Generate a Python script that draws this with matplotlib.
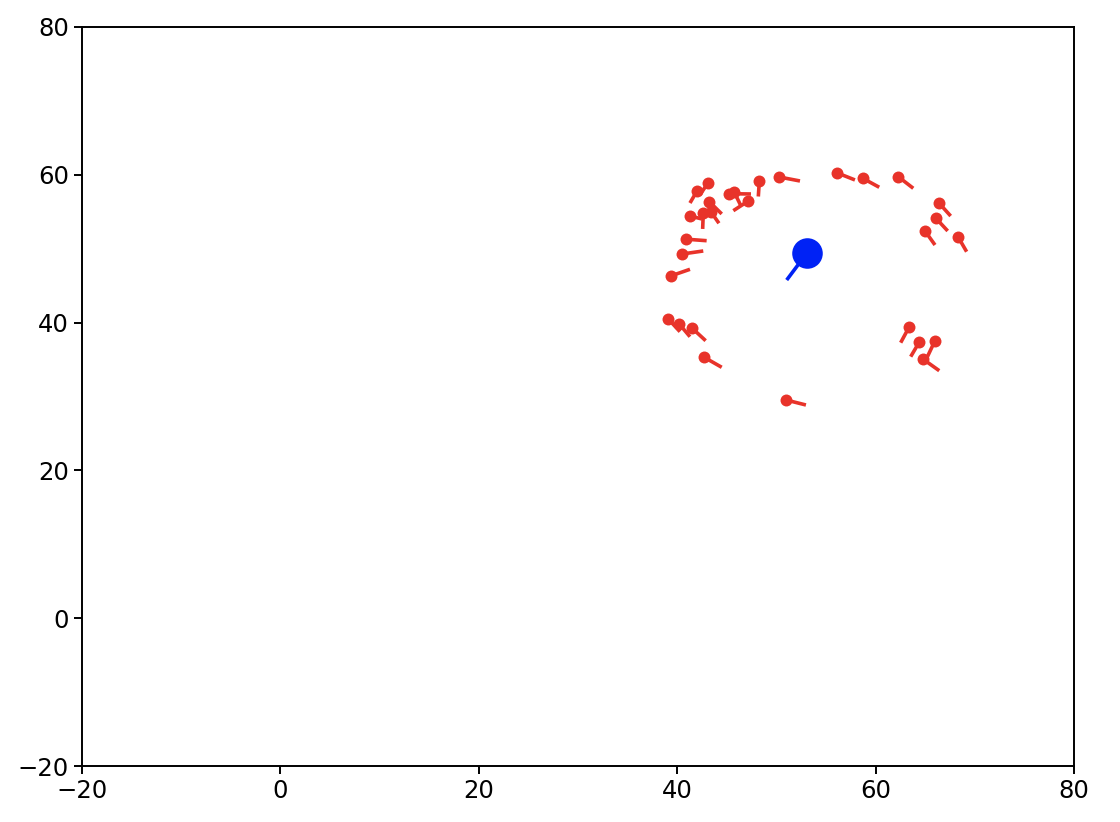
import matplotlib
matplotlib.use("Agg")
import matplotlib.pyplot as plt
import numpy as np

# Red agents: position and heading vector (data units)
red_x = [39.35, 40.51, 40.84, 41.29, 42.00, 43.10, 43.24, 42.63, 43.41, 45.25,
         45.76, 47.17, 48.28, 50.28, 56.08, 58.70, 62.29, 66.42, 66.09, 64.98,
         68.34, 39.10, 40.21, 41.52, 42.73, 50.97, 63.40, 64.41, 65.99, 64.81]
red_y = [46.31, 49.28, 51.29, 54.42, 57.81, 58.89, 56.36, 54.83, 54.97, 57.44,
         57.63, 56.45, 59.12, 59.70, 60.28, 59.53, 59.74, 56.14, 54.11, 52.40,
         51.54, 40.49, 39.81, 39.23, 35.30, 29.53, 39.44, 37.37, 37.55, 35.03]
red_u = [1.94, 2.12, 2.13, 1.21, -0.71, -0.80, 1.25, -0.06, 0.80, 2.19,
         0.67, -1.51, -0.10, 2.10, 1.84, 1.67, 1.51, 1.15, 1.18, 1.01,
         0.84, 1.18, 1.08, 1.35, 1.76, 2.01, -0.87, -0.87, -0.84, 1.61]
red_v = [0.90, 0.41, -0.21, -0.40, -1.63, -1.60, -1.66, -2.16, -1.53, -0.04,
         -1.85, -1.31, -2.06, -0.54, -0.98, -1.22, -1.57, -1.72, -1.71, -1.90,
         -1.95, -1.72, -1.72, -1.68, -1.35, -0.68, -2.16, -1.98, -2.38, -1.54]

# Blue agent
blue_x = [53.06]
blue_y = [49.38]
blue_u = [-2.02]
blue_v = [-3.62]

RED = "#e8332a"
BLUE = "#0022f5"

fig = plt.figure(figsize=(11.2, 8.22), dpi=100)
ax = fig.add_axes([0.0732, 0.0681, 0.8857, 0.8991])

for x, y, u, v in zip(red_x, red_y, red_u, red_v):
    ax.plot([x, x + u], [y, y + v], color=RED, lw=2.6, solid_capstyle="butt", zorder=2)
ax.plot(red_x, red_y, "o", color=RED, ms=8.6, mec="none", zorder=3)

for x, y, u, v in zip(blue_x, blue_y, blue_u, blue_v):
    ax.plot([x, x + u], [y, y + v], color=BLUE, lw=2.6, solid_capstyle="butt", zorder=2)
ax.plot(blue_x, blue_y, "o", color=BLUE, ms=22, mec="none", zorder=3)

ax.set_xlim(-20, 80)
ax.set_ylim(-20, 80)
ax.set_xticks([-20, 0, 20, 40, 60, 80])
ax.set_yticks([-20, 0, 20, 40, 60, 80])
ax.tick_params(labelsize=17.5, length=6, width=1.4)
for s in ax.spines.values():
    s.set_linewidth(1.4)

fig.savefig("out.png", dpi=100)
